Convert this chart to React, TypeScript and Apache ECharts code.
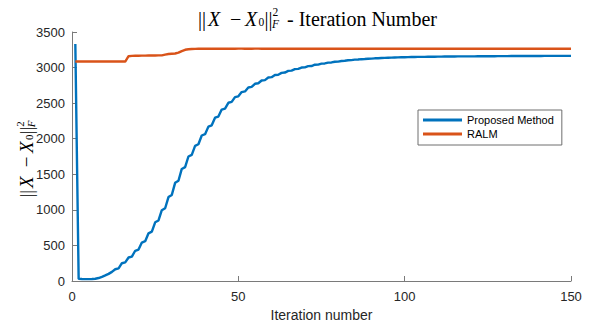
import React, { useEffect, useRef } from "react";
import * as echarts from "echarts";

const seriesNames = ["Proposed Method", "RALM"];
const xTicks = [0, 50, 100, 150];
const yTicks = [0, 500, 1000, 1500, 2000, 2500, 3000, 3500];

// Proposed Method, iterations 1..150
const proposed = [
  3330, 30, 28, 27, 27, 28, 32, 42, 58, 78,
  100, 128, 165, 178, 250, 262, 330, 344, 425, 442,
  540, 560, 670, 693, 825, 851, 995, 1023, 1180, 1210,
  1380, 1409, 1575, 1601, 1750, 1773, 1900, 1922, 2045, 2064,
  2170, 2189, 2295, 2312, 2410, 2424, 2505, 2517, 2585, 2596,
  2655, 2665, 2720, 2728, 2772, 2779, 2818, 2824, 2860, 2865,
  2896, 2900, 2926, 2930, 2953, 2957, 2978, 2981, 3000, 3003,
  3020, 3022, 3040, 3042, 3056, 3058, 3070, 3072, 3082, 3084,
  3093, 3096, 3103, 3105, 3111, 3113, 3118, 3120, 3124, 3126,
  3130, 3132, 3134, 3136, 3138, 3140, 3142, 3143, 3145, 3146,
  3147, 3148, 3149, 3150, 3150, 3151, 3152, 3152, 3153, 3154,
  3154, 3155, 3155, 3156, 3156, 3157, 3157, 3157, 3158, 3158,
  3158, 3159, 3159, 3159, 3160, 3160, 3160, 3161, 3161, 3161,
  3161, 3162, 3162, 3162, 3162, 3162, 3163, 3163, 3163, 3163,
  3163, 3164, 3164, 3164, 3164, 3164, 3164, 3165, 3165, 3165,
];

// RALM, iterations 1..150
const ralm = [
  3085, 3085, 3085, 3085, 3085, 3085, 3085, 3085, 3085, 3085,
  3085, 3085, 3085, 3085, 3085, 3085, 3160, 3165, 3166, 3167,
  3168, 3168, 3169, 3170, 3170, 3171, 3172, 3182, 3190, 3194,
  3198, 3210, 3232, 3250, 3258, 3261, 3263, 3264, 3265, 3265,
  3264, 3265, 3266, 3265, 3265, 3266, 3265, 3264, 3265, 3266,
  3266, 3265, 3264, 3265, 3266, 3266, 3265, 3265, 3264, 3265,
  3266, 3265, 3265, 3266, 3265, 3264, 3265, 3266, 3265, 3265,
  3264, 3265, 3266, 3265, 3265, 3266, 3265, 3264, 3265, 3266,
  3265, 3265, 3264, 3265, 3266, 3265, 3265, 3266, 3265, 3264,
  3265, 3266, 3265, 3265, 3264, 3265, 3266, 3265, 3265, 3266,
  3265, 3264, 3265, 3266, 3265, 3265, 3264, 3265, 3266, 3265,
  3265, 3266, 3265, 3264, 3265, 3266, 3265, 3265, 3264, 3265,
  3266, 3265, 3265, 3266, 3265, 3264, 3265, 3266, 3265, 3265,
  3264, 3265, 3266, 3265, 3265, 3266, 3265, 3264, 3265, 3266,
  3265, 3265, 3264, 3265, 3266, 3265, 3265, 3266, 3265, 3265,
];

const SERIF = '"Liberation Serif", "DejaVu Serif", serif';
const SANS = '"Liberation Sans", Arial, sans-serif';
const AXIS_GRAY = "#7a7a7a";
const TEXT_GRAY = "#262626";

type Piece = { t: string; dx: number; dy: number; small?: boolean; italic?: boolean };
const normPieces: Piece[] = [
  { t: "||", dx: 0, dy: 0 },
  { t: "X", dx: 10, dy: 0, italic: true },
  { t: "\u2212", dx: 32, dy: 0 },
  { t: "X", dx: 47, dy: 0, italic: true },
  { t: "0", dx: 60.5, dy: 3, small: true },
  { t: "||", dx: 66.5, dy: 0 },
  { t: "2", dx: 74.5, dy: -7, small: true },
  { t: "F", dx: 74, dy: 5.2, small: true, italic: true },
];

function makePieces(scale: number, ox: number, oy: number) {
  return normPieces.map((p) => {
    const size = (p.small ? 11.5 : 20) * scale;
    return {
      type: "text",
      x: ox + p.dx * scale,
      y: oy + p.dy * scale,
      style: {
        text: p.t,
        fontSize: size,
        fontFamily: SERIF,
        fontStyle: p.italic ? "italic" : "normal",
        fill: "#000",
        textAlign: "left",
        verticalAlign: "middle",
        textVerticalAlign: "middle",
      },
    };
  });
}

export default function App() {
  const ref = useRef<HTMLDivElement>(null);
  useEffect(() => {
    document.body.style.margin = "0";
    if (!ref.current) return;
    const chart = echarts.init(ref.current, null, { renderer: "svg" });
    const toPairs = (arr: number[]) => arr.map((v, i) => [i + 1, v]);
    const yScale = 0.95;
    const option: any = {
      animation: false,
      backgroundColor: "#fff",
      grid: { left: 72, right: 25, top: 32, bottom: 45, containLabel: false },
      xAxis: {
        type: "value",
        min: xTicks[0],
        max: xTicks[xTicks.length - 1],
        interval: 50,
        name: "Iteration number",
        nameLocation: "middle",
        nameGap: 27,
        nameTextStyle: { fontSize: 14, color: TEXT_GRAY, fontFamily: SANS },
        axisLine: { lineStyle: { color: AXIS_GRAY, width: 1 } },
        axisTick: { inside: true, length: 5, lineStyle: { color: AXIS_GRAY } },
        axisLabel: {
          fontSize: 13,
          color: TEXT_GRAY,
          fontFamily: SANS,
          margin: 9,
          formatter: (v: number) => String(v),
        },
        splitLine: { show: false },
      },
      yAxis: {
        type: "value",
        min: yTicks[0],
        max: yTicks[yTicks.length - 1],
        interval: 500,
        axisLine: { show: true, lineStyle: { color: AXIS_GRAY, width: 1 } },
        axisTick: { show: true, inside: true, length: 5, lineStyle: { color: AXIS_GRAY } },
        axisLabel: {
          fontSize: 13,
          color: TEXT_GRAY,
          fontFamily: SANS,
          margin: 7,
          formatter: (v: number) => String(v),
        },
        splitLine: { show: false },
      },
      legend: {
        orient: "vertical",
        left: 418,
        top: 110,
        padding: [3, 8, 4, 5],
        itemGap: 0,
        itemWidth: 39,
        itemHeight: 3,
        icon: "rect",
        backgroundColor: "#fff",
        borderColor: "#6e6e6e",
        borderWidth: 1,
        borderRadius: 0,
        textStyle: { fontSize: 11, fontFamily: SANS, color: "#000", lineHeight: 14 },
        data: seriesNames,
      },
      series: [
        {
          name: seriesNames[0],
          type: "line",
          data: toPairs(proposed),
          showSymbol: false,
          color: "#0072BD",
          lineStyle: { width: 2.4, color: "#0072BD" },
        },
        {
          name: seriesNames[1],
          type: "line",
          data: toPairs(ralm),
          showSymbol: false,
          color: "#D95319",
          lineStyle: { width: 2.4, color: "#D95319" },
        },
      ],
      graphic: [
        ...makePieces(1, 198, 18.5),
        {
          type: "text",
          x: 287,
          y: 18.5,
          style: {
            text: "- Iteration Number",
            fontSize: 20,
            fontFamily: SERIF,
            fill: "#000",
            textAlign: "left",
            verticalAlign: "middle",
            textVerticalAlign: "middle",
          },
        },
        {
          type: "group",
          x: 26.5,
          y: 160,
          rotation: Math.PI / 2,
          children: makePieces(yScale, -39.5 * yScale, 0),
        },
      ],
    };
    chart.setOption(option);
    return () => chart.dispose();
  }, []);
  return <div ref={ref} style={{ width: 596, height: 327 }} />;
}
